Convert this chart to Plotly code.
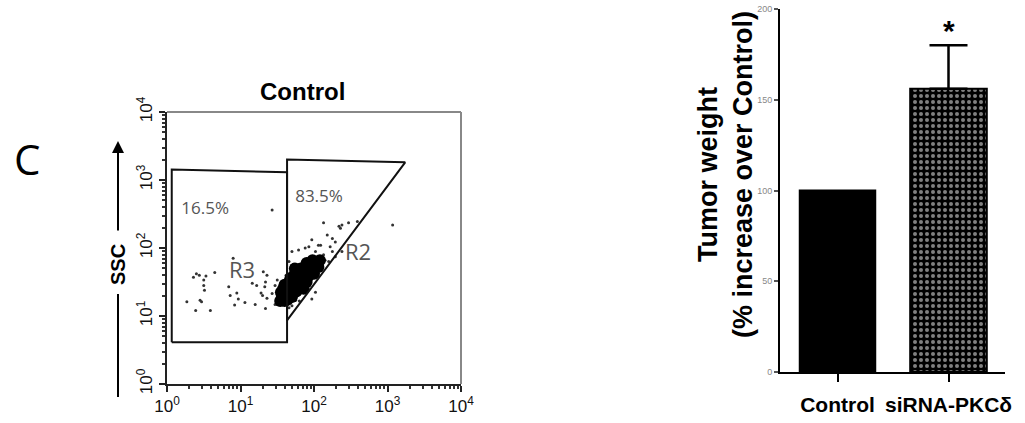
import numpy as np
import plotly.graph_objects as go

# ---------------- Flow cytometry panel (Control) ----------------
# event positions, in log10 units (FSC, SSC)
r3_fsc_log = [0.27, 0.39, 0.47, 0.51, 0.50, 0.44, 0.36, 0.40, 0.53, 0.65, 0.59, 0.84,
              0.86, 0.90, 0.95, 0.97, 0.92, 1.06, 1.20, 1.22, 1.16, 1.31, 1.36, 1.34,
              1.33, 1.30, 1.28, 1.36, 1.47, 1.34, 1.43, 1.47, 1.50, 1.52, 1.54, 1.43,
              0.45, 0.50]
r3_ssc_log = [1.21, 1.08, 1.21, 1.38, 1.53, 1.60, 1.57, 1.62, 1.59, 1.64, 1.08, 1.43,
              1.30, 1.85, 1.34, 1.25, 1.16, 1.20, 1.17, 1.45, 1.48, 1.65, 1.60, 1.50,
              1.43, 1.30, 1.34, 1.26, 1.17, 1.11, 1.33, 1.45, 1.53, 1.30, 1.38, 2.56,
              1.23, 1.45]
r2_fsc_log = [2.13, 2.34, 2.38, 2.47, 2.59, 2.36, 2.25, 2.18, 1.97, 2.09, 2.22, 2.29,
              2.38, 1.88, 1.79, 1.70, 2.02, 2.13, 2.20, 2.29, 2.02, 1.97, 1.75, 1.86,
              2.11, 2.06, 1.93, 3.07, 1.66, 1.72, 1.68, 2.15, 2.25, 1.62, 1.70, 1.80,
              1.62, 1.66]
r2_ssc_log = [2.37, 2.32, 2.34, 2.37, 2.39, 2.29, 2.14, 2.19, 2.12, 2.04, 2.02, 2.09,
              1.95, 2.00, 1.97, 1.95, 1.95, 1.90, 1.80, 1.87, 1.35, 1.25, 1.23, 1.38,
              1.70, 2.04, 2.02, 2.34, 1.80, 1.76, 1.70, 1.82, 1.95, 1.20, 1.15, 1.22,
              1.60, 1.12]
core_fsc_log = [1.58, 1.62, 1.60, 1.65, 1.66, 1.70, 1.63, 1.68, 1.72, 1.74, 1.70, 1.76,
                1.78, 1.80, 1.76, 1.82, 1.84, 1.80, 1.86, 1.88, 1.90, 1.84, 1.92, 1.95,
                1.88, 1.98, 2.00, 1.94, 2.03, 1.74, 1.78, 1.68, 1.72, 1.80, 1.86, 1.92,
                1.96, 1.66, 1.60, 1.82, 1.58, 1.55, 1.70, 1.76, 1.90, 2.06, 2.00, 1.64,
                1.56, 1.86, 2.08, 1.98, 1.54, 1.60, 1.74, 1.90]
core_ssc_log = [1.30, 1.28, 1.36, 1.34, 1.40, 1.38, 1.44, 1.46, 1.44, 1.50, 1.52, 1.42,
                1.48, 1.54, 1.56, 1.50, 1.56, 1.60, 1.62, 1.56, 1.64, 1.66, 1.70, 1.66,
                1.72, 1.74, 1.70, 1.76, 1.78, 1.62, 1.66, 1.56, 1.34, 1.42, 1.48, 1.58,
                1.62, 1.50, 1.46, 1.70, 1.40, 1.35, 1.28, 1.36, 1.50, 1.72, 1.62, 1.24,
                1.26, 1.40, 1.82, 1.82, 1.22, 1.22, 1.70, 1.78]

# gates (FSC, SSC in linear units)
gate_r3_fsc = [1.16, 1.16, 43.0, 43.0, 1.16]
gate_r3_ssc = [4.1, 1430, 1300, 4.1, 4.1]
gate_r2_fsc = [43.0, 43.0, 1740, 43.0]
gate_r2_ssc = [8.6, 2000, 1820, 8.6]

gate_labels = ["16.5%", "83.5%", "R3", "R2"]
gate_label_fsc = [3.3, 117, 10.5, 398]
gate_label_ssc = [365, 550, 44, 79]
gate_label_size = [17, 17, 22, 22]

log_tick_vals = [1, 10, 100, 1000, 10000]
log_tick_text = ["10<sup>0</sup>", "10<sup>1</sup>", "10<sup>2</sup>",
                 "10<sup>3</sup>", "10<sup>4</sup>"]

# ---------------- Tumor weight panel ----------------
groups = ["Control", "siRNA-PKCδ"]
tumor_weight = [100, 156]
tumor_err = [0, 24]
bar_ticks = [0, 50, 100, 150, 200]
bar_y_title = "Tumor weight<br>(% increase over Control)"

FONT = "Liberation Sans, Arial, sans-serif"

fig = go.Figure()

# scatter events
fig.add_trace(go.Scatter(
    x=10 ** np.array(r3_fsc_log), y=10 ** np.array(r3_ssc_log), mode="markers",
    marker=dict(size=3, color="#333"), xaxis="x", yaxis="y", showlegend=False))
fig.add_trace(go.Scatter(
    x=10 ** np.array(r2_fsc_log), y=10 ** np.array(r2_ssc_log), mode="markers",
    marker=dict(size=3, color="#333"), xaxis="x", yaxis="y", showlegend=False))
fig.add_trace(go.Scatter(
    x=10 ** np.array(core_fsc_log), y=10 ** np.array(core_ssc_log), mode="markers",
    marker=dict(size=12, color="black"), xaxis="x", yaxis="y", showlegend=False))

# gates
fig.add_trace(go.Scatter(x=gate_r3_fsc, y=gate_r3_ssc, mode="lines",
                         line=dict(color="#111", width=2), xaxis="x", yaxis="y",
                         showlegend=False))
fig.add_trace(go.Scatter(x=gate_r2_fsc, y=gate_r2_ssc, mode="lines",
                         line=dict(color="#111", width=2), xaxis="x", yaxis="y",
                         showlegend=False))
fig.add_trace(go.Scatter(x=gate_label_fsc, y=gate_label_ssc, mode="text",
                         text=gate_labels,
                         textfont=dict(family="Open Sans, sans-serif",
                                       size=gate_label_size, color="#555"),
                         xaxis="x", yaxis="y", showlegend=False))

# bars
fig.add_trace(go.Bar(
    x=[groups[0]], y=[tumor_weight[0]], width=0.68,
    marker=dict(color="black", line=dict(color="black", width=2)),
    xaxis="x2", yaxis="y2", showlegend=False))
fig.add_trace(go.Bar(
    x=[groups[1]], y=[tumor_weight[1]], width=0.69,
    marker=dict(color="black", line=dict(color="black", width=2),
                pattern=dict(shape=".", bgcolor="black", fgcolor="white",
                             size=6, solidity=0.35)),
    error_y=dict(type="data", array=[tumor_err[1]], arrayminus=[0], symmetric=False,
                 color="black", thickness=2.5, width=19),
    xaxis="x2", yaxis="y2", showlegend=False))

fig.update_layout(
    width=1025, height=423, autosize=False,
    margin=dict(l=0, r=0, t=0, b=0),
    paper_bgcolor="white", plot_bgcolor="white",
    barmode="overlay",
    font=dict(family=FONT, color="black"),
    xaxis=dict(domain=[167 / 1025, 461 / 1025], anchor="y", type="log", range=[0, 4],
               automargin=False,
               tickmode="array", tickvals=log_tick_vals, ticktext=log_tick_text,
               ticks="outside", ticklen=6, tickwidth=2, tickcolor="#222",
               showline=True, linecolor="#222", linewidth=2, showgrid=False,
               zeroline=False, tickfont=dict(size=17, family=FONT, color="#111"),
               minor=dict(ticks="outside", ticklen=3, tickwidth=1.5,
                          tickcolor="#333", dtick="D1", showgrid=False)),
    yaxis=dict(domain=[1 - 384 / 423, 1 - 112 / 423], anchor="x", type="log",
               range=[0, 4], automargin=False,
               tickmode="array", tickvals=log_tick_vals, ticktext=log_tick_text,
               tickangle=-90,
               ticks="outside", ticklen=6, tickwidth=2, tickcolor="#222",
               showline=True, linecolor="#222", linewidth=2, showgrid=False,
               zeroline=False, tickfont=dict(size=17, family=FONT, color="#111"),
               minor=dict(ticks="outside", ticklen=3, tickwidth=1.5,
                          tickcolor="#333", dtick="D1", showgrid=False)),
    xaxis2=dict(domain=[780 / 1025, 1005 / 1025], anchor="y2", type="category",
                categoryorder="array", categoryarray=groups, automargin=False,
                range=[-0.518, 1.509], showline=True, linecolor="black",
                linewidth=2, ticks="outside", ticklen=8, tickwidth=1.5,
                tickcolor="black", showgrid=False, zeroline=False,
                ticklabelstandoff=5,
                tickfont=dict(size=21, family=FONT, color="black", weight="bold")),
    yaxis2=dict(domain=[1 - 372 / 423, 1 - 9 / 423], anchor="x2", range=[0, 200],
                automargin=False,
                tickmode="array", tickvals=bar_ticks, showline=True,
                linecolor="black", linewidth=2, ticks="outside", ticklen=4,
                tickwidth=1.5, tickcolor="#555", showgrid=False, zeroline=False,
                tickfont=dict(size=9, family=FONT, color="#888")),
)

# top/right gray frame of the cytometry plot
fig.add_shape(type="line", xref="x domain", yref="y domain", x0=0, x1=1, y0=1, y1=1,
              line=dict(color="#888", width=2))
fig.add_shape(type="line", xref="x domain", yref="y domain", x0=1, x1=1, y0=0, y1=1,
              line=dict(color="#888", width=2))

# SSC axis arrow (lower segment)
fig.add_shape(type="line", xref="paper", yref="paper",
              x0=118 / 1025, x1=118 / 1025, y0=1 - 397 / 423, y1=1 - 294 / 423,
              line=dict(color="black", width=2))

annotations = [
    dict(text="Control", x=302 / 1025, y=1 - 92 / 423, xref="paper", yref="paper",
         xanchor="center", yanchor="middle", showarrow=False,
         font=dict(size=24, family=FONT, color="black", weight="bold")),
    dict(text="C", x=27 / 1025, y=1 - 158 / 423, xref="paper", yref="paper",
         xanchor="center", yanchor="middle", showarrow=False,
         font=dict(size=42, family="Open Sans, sans-serif", color="black")),
    dict(text="SSC", x=118 / 1025, y=1 - 265 / 423, xref="paper", yref="paper",
         xanchor="center", yanchor="middle", textangle=-90, showarrow=False,
         font=dict(size=20, family=FONT, color="black", weight="bold")),
    dict(text="", x=118 / 1025, y=1 - 141 / 423, xref="paper", yref="paper",
         ax=0, ay=91, axref="pixel", ayref="pixel", showarrow=True, arrowhead=2,
         arrowsize=1.2, arrowwidth=2, arrowcolor="black"),
    dict(text=bar_y_title, x=725 / 1025, y=1 - 175 / 423, xref="paper", yref="paper",
         xanchor="center", yanchor="middle", textangle=-90, showarrow=False,
         font=dict(size=27, family=FONT, color="black", weight="bold")),
    dict(text="*", x=groups[1], y=tumor_weight[1] + tumor_err[1] + 8,
         xref="x2", yref="y2", xanchor="center", yanchor="middle", showarrow=False,
         font=dict(size=30, family=FONT, color="black", weight="bold")),
]
fig.update_layout(annotations=annotations)

fig.write_html("out.html", config={"displayModeBar": False},
               post_script="document.body.style.margin='0';"
                           "document.body.style.overflow='hidden';")
